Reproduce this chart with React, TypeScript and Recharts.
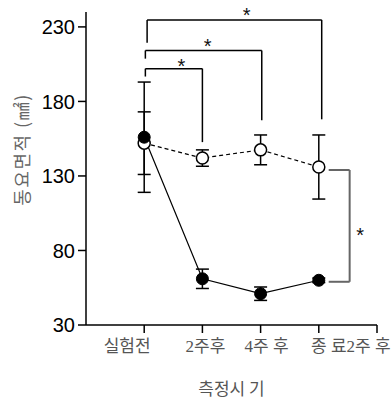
import {
  LineChart,
  Line,
  XAxis,
  YAxis,
  ErrorBar,
  ReferenceLine,
  ReferenceDot,
} from "recharts";

const timepoints = ["실험전", "2주후", "4주 후", "종 료2주 후"];
const treatedMean = [156, 61, 51, 60];
const treatedSd = [37, 6.5, 4.5, 1.5];
const controlMean = [152, 142, 147.5, 136];
const controlSd = [21, 5.5, 10, 21.5];
const yTicks = [30, 80, 130, 180, 230];
const xTicks = [1, 2, 3, 4, 5];

// 유의성 표시 (데이터 좌표)
const brackets = [
  { from: 1.02, to: 2, top: 202, leftEnd: 196.7, rightEnd: 152.7 },
  { from: 1.02, to: 3.02, top: 214.2, leftEnd: 208.7, rightEnd: 167.3 },
  { from: 1.05, to: 4.05, top: 234.7, leftEnd: 219.3, rightEnd: 168 },
];
const stars = [
  { x: 1.64, y: 206.7 },
  { x: 2.09, y: 220 },
  { x: 2.76, y: 240.7 },
  { x: 4.71, y: 93.3 },
];
const sideBracket = { from: 4.17, to: 4.53, top: 134, bottom: 59 };

const data = timepoints.map((name, i) => ({
  pos: i + 1,
  name,
  treated: treatedMean[i],
  treatedErr: treatedSd[i],
  control: controlMean[i],
  controlErr: controlSd[i],
}));

// 라벨 위치 보정 (원본 조판을 따라감)
const labelShift = [-17, 3, 6, 32];

function XTick(props: any) {
  const { x, y, payload } = props;
  const idx = payload.value - 1;
  if (idx < 0 || idx >= timepoints.length) return null;
  return (
    <text
      x={x + labelShift[idx]}
      y={y}
      dy="0.8em"
      textAnchor="middle"
      fill="#555"
      fontSize={17}
      fontFamily="'Liberation Serif', 'Noto Sans CJK KR'"
    >
      {timepoints[idx]}
    </text>
  );
}

function YTitle(props: any) {
  const vb = props.viewBox || { x: 0, y: 12, width: 86, height: 313 };
  const cx = vb.x + 21;
  const cy = vb.y + vb.height / 2 - 19;
  return (
    <text
      x={cx}
      y={cy}
      transform={`rotate(-90, ${cx}, ${cy})`}
      textAnchor="middle"
      dominantBaseline="central"
      fill="#666"
      fontSize={18}
      letterSpacing={1.5}
      fontFamily="'Noto Sans CJK KR'"
    >
      동요면적 (㎟)
    </text>
  );
}

function XTitle(props: any) {
  const vb = props.viewBox || { x: 86, y: 325, width: 291, height: 78 };
  return (
    <text
      x={vb.x + vb.width / 2}
      y={vb.y + 70}
      textAnchor="middle"
      fill="#555"
      fontSize={17}
      fontFamily="'Noto Sans CJK KR'"
    >
      측정시 기
    </text>
  );
}

function Star(props: any) {
  return (
    <text
      x={props.cx}
      y={props.cy}
      dy="0.56em"
      textAnchor="middle"
      fontSize={20}
      fontFamily="'Liberation Sans'"
      fill="#111"
    >
      *
    </text>
  );
}

export default function App() {
  return (
    <div style={{ position: "absolute", left: 0, top: 0, background: "#fff" }}>
      <LineChart
        width={392}
        height={403}
        data={data}
        margin={{ top: 12, right: 15, bottom: 0, left: 0 }}
      >
        <XAxis
          dataKey="pos"
          type="number"
          domain={[0, 5]}
          ticks={xTicks}
          height={78}
          tickSize={8}
          tickMargin={5}
          tick={<XTick />}
          stroke="#000"
          strokeWidth={1.5}
          label={<XTitle />}
        />
        <YAxis
          type="number"
          domain={[30, 240]}
          ticks={yTicks}
          width={86}
          tickSize={8}
          tickMargin={3}
          stroke="#000"
          strokeWidth={1.5}
          tick={{ fill: "#000", fontSize: 20, fontFamily: "'Liberation Sans'" }}
          label={<YTitle />}
        />

        {/* 대조군: 점선, 흰 원 */}
        <Line
          dataKey="control"
          type="linear"
          stroke="#000"
          strokeWidth={1.2}
          strokeDasharray="4 3"
          dot={{ r: 6, fill: "#fff", stroke: "#000", strokeWidth: 1.5, strokeDasharray: "0" }}
          isAnimationActive={false}
        >
          <ErrorBar dataKey="controlErr" width={6.5} stroke="#000" strokeWidth={1.5} direction="y" />
        </Line>

        {/* 실험군: 실선, 검은 원 */}
        <Line
          dataKey="treated"
          type="linear"
          stroke="#000"
          strokeWidth={1.2}
          dot={{ r: 6, fill: "#000", stroke: "#000", strokeWidth: 1 }}
          isAnimationActive={false}
        >
          <ErrorBar dataKey="treatedErr" width={6.5} stroke="#000" strokeWidth={1.5} direction="y" />
        </Line>

        {brackets.map((b, i) => [
          <ReferenceLine
            key={`l${i}`}
            segment={[{ x: b.from, y: b.leftEnd }, { x: b.from, y: b.top }]}
            stroke="#000"
            strokeWidth={1.5}
          />,
          <ReferenceLine
            key={`t${i}`}
            segment={[{ x: b.from, y: b.top }, { x: b.to, y: b.top }]}
            stroke="#000"
            strokeWidth={1.5}
          />,
          <ReferenceLine
            key={`r${i}`}
            segment={[{ x: b.to, y: b.top }, { x: b.to, y: b.rightEnd }]}
            stroke="#000"
            strokeWidth={1.5}
          />,
        ])}

        <ReferenceLine
          segment={[{ x: sideBracket.from, y: sideBracket.top }, { x: sideBracket.to, y: sideBracket.top }]}
          stroke="#666"
          strokeWidth={2}
        />
        <ReferenceLine
          segment={[{ x: sideBracket.to, y: sideBracket.top }, { x: sideBracket.to, y: sideBracket.bottom }]}
          stroke="#666"
          strokeWidth={2}
        />
        <ReferenceLine
          segment={[{ x: sideBracket.to, y: sideBracket.bottom }, { x: sideBracket.from, y: sideBracket.bottom }]}
          stroke="#666"
          strokeWidth={2}
        />

        {stars.map((s, i) => (
          <ReferenceDot
            key={`s${i}`}
            x={s.x}
            y={s.y}
            r={0}
            ifOverflow="visible"
            shape={<Star />}
          />
        ))}
      </LineChart>
    </div>
  );
}
